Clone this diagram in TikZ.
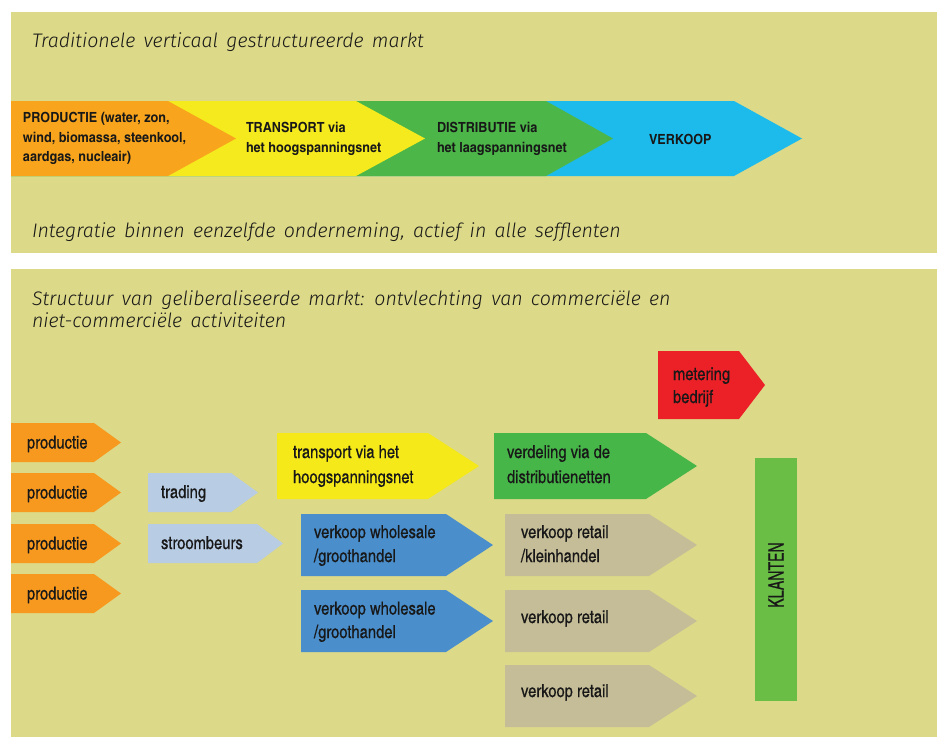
\documentclass[tikz,border=0pt]{standalone}
\usepackage{fontspec}
\setmainfont{Fira Sans}
\newfontfamily\ttl{Fira Sans}[UprightFont={* Light Italic}]
\newfontfamily\cnd{texgyreheroscn-regular.otf}[BoldFont=texgyreheroscn-bold.otf]
\newfontfamily\cndb{texgyreheroscn-bold.otf}[FakeStretch=1.1]
\newfontfamily\cndm{texgyreheroscn-regular.otf}[FakeBold=0.6]
\newfontfamily\cndk{texgyreheroscn-regular.otf}[FakeStretch=0.8,FakeBold=0.4]
\definecolor{bg}{RGB}{220,217,136}
\definecolor{ink}{RGB}{24,24,24}
\definecolor{torange}{HTML}{F8A51D}
\definecolor{tyellow}{HTML}{F5EA1E}
\definecolor{tgreen}{HTML}{4CB748}
\definecolor{tblue}{HTML}{1CBBEC}
\definecolor{borange}{HTML}{F7991F}
\definecolor{lblue}{HTML}{B8CCE4}
\definecolor{byellow}{HTML}{F5E919}
\definecolor{bblue}{HTML}{4A8ECB}
\definecolor{bgreen}{HTML}{47B649}
\definecolor{bred}{HTML}{EC2128}
\definecolor{tan}{HTML}{C5BD97}
\definecolor{kgreen}{HTML}{6ABD45}
\newcommand\arrowbox[6]{\fill[#6] (#1,#4) -- (#2,#4) -- (#3,{(#4+#5)/2}) -- (#2,#5) -- (#1,#5) -- cycle;}
\newcommand\widesp{\spaceskip=0.42em plus 0.1em\relax}
\begin{document}
\begin{tikzpicture}[x=1pt,y=-1pt,
  every node/.style={inner sep=0pt, outer sep=0pt, text=ink, anchor=base west},
  title/.style={font=\ttl\fontsize{19.6}{22}\selectfont\widesp},
  toplbl/.style={font=\cndb\fontsize{14}{16}\selectfont},
  lbl/.style={font=\cndm\fontsize{18}{20}\selectfont}]
\useasboundingbox (0,0) rectangle (937,737);
\fill[white] (0,0) rectangle (937,737);
\fill[bg] (11,12) rectangle (937,253);
\fill[bg] (11,269) rectangle (937,737);
% top band
\arrowbox{11}{734}{802}{101}{176}{tblue}
\arrowbox{11}{546}{613}{101}{176}{tgreen}
\arrowbox{11}{356}{425}{101}{176}{tyellow}
\arrowbox{11}{168}{236}{101}{176}{torange}
\node[title] (t1) at (32,47) {Traditionele verticaal gestructureerde markt};
\node[title] (t2) at (32,237) {Integratie binnen eenzelfde onderneming, actief in alle sefflenten};
\node[toplbl] (p1) at (23,122.5) {PRODUCTIE (water, zon,};
\node[toplbl] (p2) at (23,142) {wind, biomassa, steenkool,};
\node[toplbl] (p3) at (23,161.5) {aardgas, nucleair)};
\node[toplbl] (tr1) at (246,132.5) {TRANSPORT via};
\node[toplbl] (tr2) at (246,152.5) {het hoogspanningsnet};
\node[toplbl] (d1) at (437,132.5) {DISTRIBUTIE via};
\node[toplbl] (d2) at (437,152.5) {het laagspanningsnet};
\node[toplbl] (vk) at (649,144) {VERKOOP};
% bottom panel
\node[title] (s1) at (32,305) {Structuur van geliberaliseerde markt: ontvlechting van commerciële en};
\node[title] (s2) at (32,327) {niet-commerciële activiteiten};
\arrowbox{11}{94}{121}{423}{462}{borange}
\arrowbox{11}{94}{121}{473}{512}{borange}
\arrowbox{11}{94}{121}{524}{563}{borange}
\arrowbox{11}{94}{121}{574}{613}{borange}
\node[lbl] (pr1) at (27,448.5) {productie};
\node[lbl] (pr2) at (27,498.5) {productie};
\node[lbl] (pr3) at (27,549.5) {productie};
\node[lbl] (pr4) at (27,599.5) {productie};
\arrowbox{148}{231}{258}{473}{512}{lblue}
\arrowbox{148}{257}{283}{524}{563}{lblue}
\node[lbl] (trd) at (161,498) {trading};
\node[lbl] (sb) at (161,549) {stroombeurs};
\arrowbox{277}{428}{479}{433}{499}{byellow}
\node[lbl] (tp1) at (293,458) {transport via het};
\node[lbl] (tp2) at (293,483) {hoogspanningsnet};
\arrowbox{301}{446}{493}{514}{576}{bblue}
\arrowbox{301}{446}{493}{590}{652}{bblue}
\node[lbl] (w1a) at (314,538) {verkoop wholesale};
\node[lbl] (w1b) at (314,562) {/groothandel};
\node[lbl] (w2a) at (314,614.5) {verkoop wholesale};
\node[lbl] (w2b) at (314,638) {/groothandel};
\arrowbox{494}{646}{697}{433}{499}{bgreen}
\node[lbl] (vd1) at (507,458) {verdeling via de};
\node[lbl] (vd2) at (507,483) {distributienetten};
\arrowbox{658}{739}{765}{351}{419}{bred}
\node[lbl] (m1) at (673,380) {metering};
\node[lbl] (m2) at (673,403) {bedrijf};
\arrowbox{505}{649}{697}{514}{576}{tan}
\arrowbox{505}{649}{697}{590}{652}{tan}
\arrowbox{505}{649}{697}{665}{727}{tan}
\node[lbl] (r1a) at (521,538) {verkoop retail};
\node[lbl] (r1b) at (521,562) {/kleinhandel};
\node[lbl] (r2) at (521,623) {verkoop retail};
\node[lbl] (r3) at (521,697) {verkoop retail};
\fill[kgreen] (755,458) rectangle (797,701);
\node[font=\cndk\fontsize{21.5}{23}\selectfont, rotate=90, anchor=center] (kl) at (776,575) {KLANTEN};
\end{tikzpicture}
\end{document}
